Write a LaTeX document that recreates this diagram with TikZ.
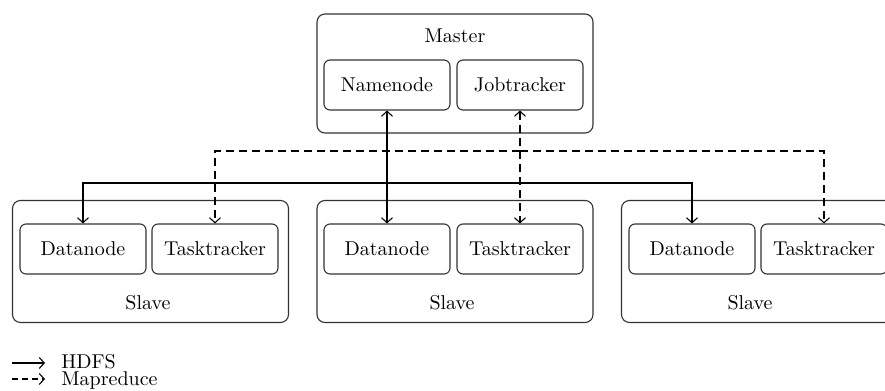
\documentclass[tikz,border=0pt]{standalone}
\usetikzlibrary{arrows.meta}

\begin{document}
\begin{tikzpicture}[x=0.5pt,y=-0.5pt,
  every node/.style={font=\normalsize},
  box/.style={draw=black!80, line width=0.55pt, rounded corners=3pt, minimum width=63pt, minimum height=25pt},
  group/.style={draw=black!80, line width=0.55pt, rounded corners=4pt, minimum width=138pt, minimum height=61pt},
  link/.style={line width=0.55pt, >={Straight Barb[length=2.5pt,width=5.5pt]}},
  mr/.style={link, dash pattern=on 4pt off 2.5pt},
  key/.style={anchor=base west, inner sep=0.5pt}]
\useasboundingbox (0,0) rectangle (885,391);
% master
\node[group, minimum height=59.5pt] (master) at (455,73.5) {};
\node (mlabel) at (455,36) {Master};
\node[box] (nn) at (387,85) {Namenode};
\node[box] (jt) at (520,85) {Jobtracker};
% slaves
\node[group] (s1) at (150.5,261.5) {};
\node[box] (dn1) at (83,249) {Datanode};
\node[box] (tt1) at (215,249) {Tasktracker};
\node (l1) at (148,303) {Slave};
\node[group] (s2) at (455,261.5) {};
\node[box] (dn2) at (387,249) {Datanode};
\node[box] (tt2) at (520,249) {Tasktracker};
\node (l2) at (452,303) {Slave};
\node[group] (s3) at (759.5,261.5) {};
\node[box] (dn3) at (692,249) {Datanode};
\node[box] (tt3) at (824,249) {Tasktracker};
\node (l3) at (750,303) {Slave};
% HDFS links
\coordinate (hbus) at (387,183);
\draw[link,<->] (nn.south) -- (dn2.north);
\draw[link,->] (hbus) -| (dn1.north);
\draw[link,->] (hbus) -| (dn3.north);
% Mapreduce links
\coordinate (mbus) at (520,151);
\draw[mr,<->] (jt.south) -- (tt2.north);
\draw[mr,->] (mbus) -| (tt1.north);
\draw[mr,->] (mbus) -| (tt3.north);
% legend
\coordinate (k1) at (12,363);
\coordinate (k1e) at (45,363);
\coordinate (k2) at (12,379);
\coordinate (k2e) at (45,379);
\node[key] (hdfs) at (60,368) {HDFS};
\node[key] (mapred) at (60,385) {Mapreduce};
\draw[link,->] (k1) -- (k1e);
\draw[mr,dash pattern=on 3pt off 2pt,->] (k2) -- (k2e);
\end{tikzpicture}
\end{document}
